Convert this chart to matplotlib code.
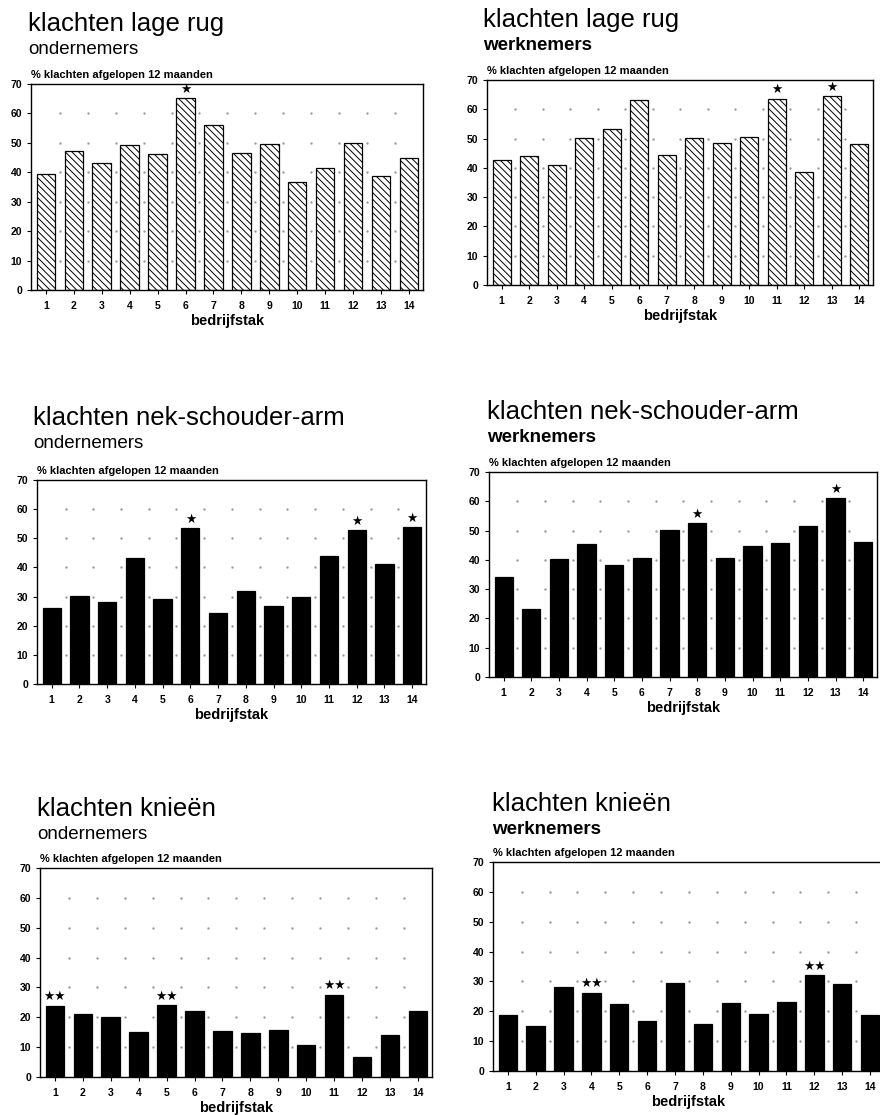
import matplotlib.pyplot as plt
import numpy as np

plt.rcParams['font.family'] = ['Liberation Sans', 'DejaVu Sans']
plt.rcParams['hatch.linewidth'] = 0.7

W, H = 880, 1115

# bedrijfstak 1..14
categories = list(range(1, 15))

titles = ['klachten lage rug', 'klachten lage rug',
          'klachten nek-schouder-arm', 'klachten nek-schouder-arm',
          'klachten knieën', 'klachten knieën']
groups = ['ondernemers', 'werknemers'] * 3

# % klachten afgelopen 12 maanden
rug_ondernemers = [39.3, 47.2, 43.2, 49.4, 46.3, 65.2, 56.1, 46.6, 49.5, 36.6, 41.6, 49.8, 38.9, 44.9]
rug_werknemers = [42.8, 44.2, 41.0, 50.2, 53.1, 63.2, 44.4, 50.2, 48.4, 50.4, 63.6, 38.6, 64.6, 48.2]
nek_ondernemers = [26.1, 30.1, 28.1, 43.2, 29.3, 53.4, 24.4, 31.8, 26.8, 29.9, 43.9, 52.9, 41.2, 53.9]
nek_werknemers = [34.2, 23.2, 40.2, 45.3, 38.3, 40.5, 50.3, 52.6, 40.7, 44.8, 45.8, 51.7, 61.0, 46.0]
knie_ondernemers = [23.9, 21.0, 20.0, 15.1, 24.0, 22.1, 15.3, 14.6, 15.6, 10.6, 27.6, 6.8, 14.2, 22.0]
knie_werknemers = [18.9, 15.1, 28.0, 26.2, 22.3, 16.6, 29.6, 15.8, 22.8, 19.0, 23.0, 32.0, 29.2, 18.6]

# aantal sterretjes per bedrijfstak (significantie)
rug_ond_stars = {6: 1}
rug_werk_stars = {11: 1, 13: 1}
nek_ond_stars = {6: 1, 12: 1, 14: 1}
nek_werk_stars = {8: 1, 13: 1}
knie_ond_stars = {1: 2, 5: 2, 11: 2}
knie_werk_stars = {4: 2, 12: 2}

series = [rug_ondernemers, rug_werknemers, nek_ondernemers,
          nek_werknemers, knie_ondernemers, knie_werknemers]
stars = [rug_ond_stars, rug_werk_stars, nek_ond_stars,
         nek_werk_stars, knie_ond_stars, knie_werk_stars]

# panel boxes in pixels: x0, top, x1, bottom ; title x, title top
boxes = [(31, 84, 423, 290, 28, 12),
         (487, 80, 873, 285, 483, 8),
         (37, 480, 426, 684, 33, 406),
         (489, 472, 877, 677, 487, 400),
         (40, 868, 432, 1077, 37, 797),
         (493, 862, 884, 1071, 492, 792)]

fig = plt.figure(figsize=(W / 100, H / 100), dpi=100)

for i, (vals, st) in enumerate(zip(series, stars)):
    x0, y0, x1, y1, tx, ty = boxes[i]
    ax = fig.add_axes([x0 / W, 1 - y1 / H, (x1 - x0) / W, (y1 - y0) / H])

    # dotted grid between the bars
    for gy in range(10, 70, 10):
        ax.plot(np.arange(1.5, 14.5, 1.0), [gy] * 13, ls='none', marker='.',
                ms=1.4, color='#999999', zorder=1)

    if i < 2:
        ax.bar(categories, vals, width=0.66, color='white', edgecolor='black',
               hatch='\\\\\\\\\\', linewidth=0.9, zorder=2)
    else:
        ax.bar(categories, vals, width=0.66, color='black', edgecolor='black',
               linewidth=0.9, zorder=2)

    for c, n in st.items():
        ax.text(c, vals[c - 1] + 0.8, '★' * n, ha='center', va='bottom',
                fontsize=9, family='DejaVu Sans')

    ax.set_xlim(0.47, 14.5)
    ax.set_ylim(0, 70)
    ax.set_xticks(categories)
    ax.set_yticks(range(0, 80, 10))
    ax.tick_params(axis='both', direction='out', length=3, width=0.8, labelsize=7.5)
    ax.tick_params(axis='x', pad=5)
    for lbl in ax.get_xticklabels() + ax.get_yticklabels():
        lbl.set_fontweight('bold')
    for sp in ax.spines.values():
        sp.set_linewidth(1.0)
    ax.set_xlabel('bedrijfstak', fontsize=10.5, fontweight='bold', labelpad=2)
    ax.text(0, 1.02, '% klachten afgelopen 12 maanden', transform=ax.transAxes,
            ha='left', va='bottom', fontsize=8, fontweight='bold')

    fig.text(tx / W, 1 - ty / H, titles[i], ha='left', va='top', fontsize=18.5)
    fig.text(tx / W, 1 - (ty + 29) / H, groups[i], ha='left', va='top',
             fontsize=13.5, fontweight='bold' if groups[i] == 'werknemers' else 'normal')

fig.savefig('out.png', dpi=100)
